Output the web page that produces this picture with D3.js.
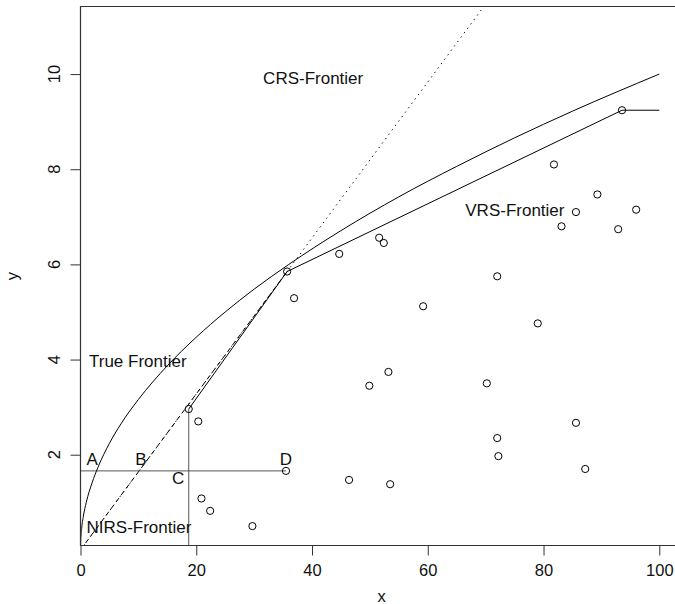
<!DOCTYPE html>
<html>
<head>
<meta charset="utf-8">
<script src="https://cdn.jsdelivr.net/npm/d3@7"></script>
<style>
  body { margin: 0; background: #fff; overflow: hidden; }
  text { font-family: "Liberation Sans", Arial, Helvetica, sans-serif; }
</style>
</head>
<body>
<div id="chart"></div>
<script>
// observed units (x, y)
var pointX = [18.7, 20.35, 35.5, 20.9, 22.4, 29.7, 35.7, 36.9, 44.7, 51.6, 52.4, 46.4, 49.9, 53.2, 53.5, 59.2,
              70.2, 72.0, 72.0, 72.2, 79.0, 81.8, 83.1, 85.6, 85.6, 87.2, 89.3, 92.9, 96.0, 93.56];
var pointY = [2.96, 2.70, 1.66, 1.08, 0.82, 0.50, 5.85, 5.29, 6.22, 6.56, 6.45, 1.47, 3.45, 3.74, 1.38, 5.12,
              3.50, 5.75, 2.35, 1.97, 4.76, 8.10, 6.80, 7.10, 2.67, 1.70, 7.47, 6.74, 7.15, 9.24];

// true frontier
var trueX = [0, 0.05, 0.2, 0.5, 1, 2, 3, 5, 7, 10, 15, 20, 25, 30, 36, 45, 55, 65, 75, 85, 100];
var trueY = [0, 0.22, 0.45, 0.71, 1.0, 1.41, 1.73, 2.24, 2.65, 3.16, 3.87, 4.47, 5.0, 5.48, 6.0, 6.71, 7.42, 8.06, 8.66, 9.22, 10.0];

// piecewise frontiers
var crsX = [0, 72];
var crsY = [0, 11.8];
var nirsX = [0, 35.7];
var nirsY = [0, 5.85];
var vrsX = [18.7, 18.7, 35.7, 93.56, 100];
var vrsY = [0, 2.96, 5.85, 9.24, 9.24];
var refX = [0, 35.5];
var refY = [1.66, 1.66];

var labelText = ["A", "B", "C", "D", "NIRS-Frontier", "True Frontier", "CRS-Frontier", "VRS-Frontier"];
var labelX = [2.0, 10.45, 16.85, 35.5, 10.1, 9.9, 40.2, 75.05];
var labelY = [1.91, 1.91, 1.51, 1.91, 0.48, 3.97, 9.93, 7.14];

var xTicks = [0, 20, 40, 60, 80, 100];
var yTicks = [2, 4, 6, 8, 10];

var width = 675, height = 604;
var padL = 80.5, padT = 6.5, padB = 545.5;

var svg = d3.select("#chart").append("svg")
    .attr("width", width)
    .attr("height", height)
    .style("display", "block");

svg.append("rect").attr("width", width).attr("height", height).attr("fill", "#fff");

var x = d3.scaleLinear().domain([0, 100]).range([padL, 659.3]);
var y = d3.scaleLinear().domain([0.092, 11.42]).range([padB, padT]);

svg.append("clipPath").attr("id", "plotclip")
  .append("rect")
    .attr("x", padL).attr("y", padT)
    .attr("width", width - padL).attr("height", padB - padT);

var plot = svg.append("g").attr("clip-path", "url(#plotclip)");

function pairs(xs, ys) {
    return xs.map(function(d, i) { return [d, ys[i]]; });
}

var line = d3.line()
    .x(function(d) { return x(d[0]); })
    .y(function(d) { return y(d[1]); });

var smooth = d3.line()
    .x(function(d) { return x(d[0]); })
    .y(function(d) { return y(d[1]); })
    .curve(d3.curveMonotoneX);

// reference lines
plot.append("path")
    .attr("d", line(pairs(refX, refY)))
    .attr("fill", "none").attr("stroke", "#555").attr("stroke-width", 1);

plot.append("path")
    .attr("d", line(pairs(vrsX.slice(0, 2), vrsY.slice(0, 2))))
    .attr("fill", "none").attr("stroke", "#555").attr("stroke-width", 1);

// frontiers
plot.append("path")
    .attr("d", smooth(pairs(trueX, trueY)))
    .attr("fill", "none").attr("stroke", "#000").attr("stroke-width", 1);

plot.append("path")
    .attr("d", line(pairs(crsX, crsY)))
    .attr("fill", "none").attr("stroke", "#000").attr("stroke-width", 1)
    .attr("stroke-dasharray", "1.3,4.2");

plot.append("path")
    .attr("d", line(pairs(nirsX, nirsY)))
    .attr("fill", "none").attr("stroke", "#000").attr("stroke-width", 1)
    .attr("stroke-dasharray", "5,3.5");

plot.append("path")
    .attr("d", line(pairs(vrsX.slice(1), vrsY.slice(1))))
    .attr("fill", "none").attr("stroke", "#000").attr("stroke-width", 1);

// points
plot.selectAll("circle.pt")
    .data(pairs(pointX, pointY))
    .enter()
    .append("circle")
    .attr("class", "pt")
    .attr("cx", function(d) { return x(d[0]); })
    .attr("cy", function(d) { return y(d[1]); })
    .attr("r", 3.6)
    .attr("fill", "none")
    .attr("stroke", "#000")
    .attr("stroke-width", 1);

// labels
svg.selectAll("text.lab")
    .data(labelText)
    .enter()
    .append("text")
    .attr("class", "lab")
    .attr("x", function(d, i) { return x(labelX[i]); })
    .attr("y", function(d, i) { return y(labelY[i]); })
    .attr("text-anchor", "middle")
    .attr("dy", "0.36em")
    .attr("font-size", "17px")
    .attr("fill", "#111")
    .text(function(d) { return d; });

// box (right edge falls outside the picture)
svg.append("path")
    .attr("d", "M" + (width + 5) + "," + padT + "H" + padL + "V" + padB + "H" + (width + 5))
    .attr("fill", "none").attr("stroke", "#333").attr("stroke-width", 1.2);

// x axis
var xAxis = d3.axisBottom(x).tickValues(xTicks).tickSize(10).tickPadding(9);
var gx = svg.append("g")
    .attr("transform", "translate(0," + padB + ")")
    .call(xAxis);
gx.select(".domain").remove();
gx.selectAll("line").attr("stroke", "#333");
gx.selectAll("text")
    .attr("font-size", "16.5px")
    .attr("fill", "#111")
    .style("font-family", "'Liberation Sans', Arial, sans-serif");

// y axis
var yAxis = d3.axisLeft(y).tickValues(yTicks).tickSize(10).tickFormat("");
var gy = svg.append("g")
    .attr("transform", "translate(" + padL + ",0)")
    .call(yAxis);
gy.select(".domain").remove();
gy.selectAll("line").attr("stroke", "#333");

svg.selectAll("text.ytick")
    .data(yTicks)
    .enter()
    .append("text")
    .attr("class", "ytick")
    .attr("transform", function(d) { return "translate(54," + y(d) + ") rotate(-90)"; })
    .attr("text-anchor", "middle")
    .attr("dy", "0.36em")
    .attr("font-size", "16.5px")
    .attr("fill", "#111")
    .text(function(d) { return d; });

// axis titles
svg.append("text")
    .attr("x", 381.7)
    .attr("y", 601.5)
    .attr("text-anchor", "middle")
    .attr("font-size", "16.5px")
    .attr("fill", "#111")
    .text("x");

svg.append("text")
    .attr("transform", "translate(12," + ((padT + padB) / 2) + ") rotate(-90)")
    .attr("text-anchor", "middle")
    .attr("dy", "0.36em")
    .attr("font-size", "16.5px")
    .attr("fill", "#111")
    .text("y");
</script>
</body>
</html>
